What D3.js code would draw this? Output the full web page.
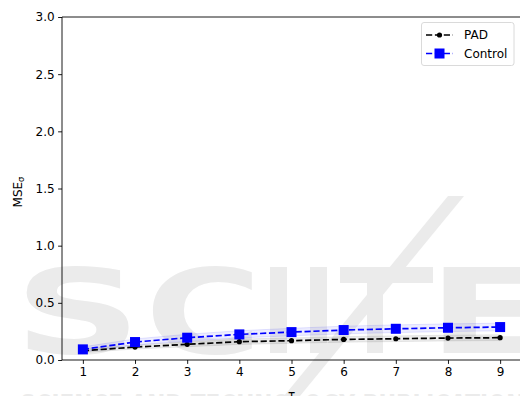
<!DOCTYPE html>
<html>
<head>
<meta charset="utf-8">
<script src="https://cdn.jsdelivr.net/npm/d3@7"></script>
<style>
  html, body { margin: 0; padding: 0; background: #fff; }
  svg { display: block; }
  text { font-family: "DejaVu Sans", sans-serif; }
</style>
</head>
<body>
<svg id="chart" width="520" height="396"></svg>
<script>
// Horizon values and mean errors per method
const tau = [1, 2, 3, 4, 5, 6, 7, 8, 9];
const padMean = [0.081, 0.113, 0.137, 0.160, 0.169, 0.180, 0.186, 0.192, 0.195];
const padLow = [0.066, 0.096, 0.116, 0.136, 0.146, 0.156, 0.161, 0.167, 0.170];
const padHigh = [0.098, 0.132, 0.158, 0.183, 0.193, 0.204, 0.211, 0.217, 0.221];
const ctrlMean = [0.093, 0.157, 0.195, 0.224, 0.244, 0.262, 0.273, 0.282, 0.288];
const ctrlLow = [0.072, 0.131, 0.166, 0.193, 0.212, 0.229, 0.240, 0.249, 0.255];
const ctrlHigh = [0.115, 0.184, 0.225, 0.256, 0.277, 0.296, 0.307, 0.316, 0.322];
const yTicks = [0.0, 0.5, 1.0, 1.5, 2.0, 2.5, 3.0];
const seriesNames = ["PAD", "Control"];

const svg = d3.select("#chart");
const plotL = 62, plotR = 521, plotT = 17, plotB = 360;
const fs = 12;

// Publisher watermark, drawn beneath the plot
const wm = svg.append("g").attr("fill", "#ebebeb");
wm.append("text").attr("transform", "translate(14,353) scale(1.5,1)")
  .attr("font-size", 118).attr("font-weight", "bold").text("S");
wm.append("text").attr("transform", "translate(145,353) scale(1.35,1)")
  .attr("font-size", 118).attr("font-weight", "bold").text("C");
wm.append("rect").attr("x", 270).attr("y", 267).attr("width", 17).attr("height", 86);
wm.append("rect").attr("x", 310).attr("y", 267).attr("width", 17).attr("height", 86);
wm.append("rect").attr("x", 340).attr("y", 267).attr("width", 93).attr("height", 16);
wm.append("rect").attr("x", 367).attr("y", 283).attr("width", 16).attr("height", 70);
wm.append("polygon").attr("points", "448,196 464,196 300,396 284,396");
wm.append("text").attr("transform", "translate(428,353) scale(1.45,1)")
  .attr("font-size", 118).attr("font-weight", "bold").text("E");
wm.append("text").attr("x", 20).attr("y", 416).attr("font-size", 30)
  .attr("font-weight", "bold").attr("textLength", 520).attr("lengthAdjust", "spacingAndGlyphs")
  .text("SCIENCE AND TECHNOLOGY PUBLICATIONS");

const x = d3.scaleLinear().domain([0.6, 9.4]).range([plotL, plotR]);
const y = d3.scaleLinear().domain([0, 3]).range([plotB, plotT]);

// Confidence bands
const band = (lo, hi) => d3.area()
  .x((d, i) => x(tau[i]))
  .y0((d, i) => y(lo[i]))
  .y1((d, i) => y(hi[i]))(tau);
svg.append("path").attr("d", band(padLow, padHigh))
  .attr("fill", "black").attr("fill-opacity", 0.07)
  .attr("stroke", "black").attr("stroke-opacity", 0.08).attr("stroke-width", 1);
svg.append("path").attr("d", band(ctrlLow, ctrlHigh))
  .attr("fill", "blue").attr("fill-opacity", 0.07)
  .attr("stroke", "blue").attr("stroke-opacity", 0.1).attr("stroke-width", 1);

// Axes
const yAxis = d3.axisLeft(y).tickValues(yTicks).tickFormat(d3.format(".1f"))
  .tickSize(3.9).tickPadding(3.5);
const gy = svg.append("g").attr("transform", `translate(${plotL},0)`).call(yAxis);
const xAxis = d3.axisBottom(x).tickValues(tau).tickFormat(d3.format("d"))
  .tickSize(3.9).tickPadding(3.5);
const gx = svg.append("g").attr("transform", `translate(0,${plotB})`).call(xAxis);
[gx, gy].forEach(g => {
  g.select(".domain").remove();
  g.selectAll(".tick line").attr("stroke", "#000").attr("stroke-width", 0.9);
  g.selectAll(".tick text").attr("fill", "#000").attr("font-size", fs)
    .attr("font-family", "DejaVu Sans, sans-serif");
});

// Lines and markers
const line = vals => d3.line().x((d, i) => x(tau[i])).y((d, i) => y(vals[i]))(tau);
svg.append("path").attr("d", line(padMean)).attr("fill", "none")
  .attr("stroke", "black").attr("stroke-width", 1.7).attr("stroke-dasharray", "6.2,2.7");
svg.append("path").attr("d", line(ctrlMean)).attr("fill", "none")
  .attr("stroke", "blue").attr("stroke-width", 1.7).attr("stroke-dasharray", "6.2,2.7");
svg.append("g").selectAll("circle").data(padMean).join("circle")
  .attr("cx", (d, i) => x(tau[i])).attr("cy", d => y(d)).attr("r", 2.6).attr("fill", "black");
svg.append("g").selectAll("rect").data(ctrlMean).join("rect")
  .attr("x", (d, i) => x(tau[i]) - 5).attr("y", d => y(d) - 5)
  .attr("width", 10).attr("height", 10).attr("fill", "blue");

// Spines
const sp = svg.append("g").attr("stroke", "#000").attr("stroke-width", 0.9).attr("fill", "none");
sp.append("line").attr("x1", plotL).attr("x2", plotL).attr("y1", plotT).attr("y2", plotB);
sp.append("line").attr("x1", plotL).attr("x2", plotR).attr("y1", plotB).attr("y2", plotB);
sp.append("line").attr("x1", plotL).attr("x2", plotR).attr("y1", plotT).attr("y2", plotT);
sp.append("line").attr("x1", plotR).attr("x2", plotR).attr("y1", plotT).attr("y2", plotB);

// Axis labels
svg.append("text").attr("x", (plotL + plotR) / 2).attr("y", 399)
  .attr("text-anchor", "middle").attr("font-size", fs).text("τ");
const yl = svg.append("text").attr("transform", "translate(21.5,192) rotate(-90)")
  .attr("text-anchor", "middle").attr("font-size", fs);
yl.append("tspan").text("MSE");
yl.append("tspan").attr("font-size", fs * 0.7).attr("dy", 2.5).text("σ");

// Legend
const lg = svg.append("g");
lg.append("rect").attr("x", 421.5).attr("y", 22.5).attr("width", 92.5).attr("height", 43)
  .attr("rx", 2.5).attr("fill", "white").attr("fill-opacity", 0.8)
  .attr("stroke", "#d6d6d6").attr("stroke-width", 0.9);
const rows = [
  { name: seriesNames[0], color: "black", y: 35 },
  { name: seriesNames[1], color: "blue", y: 53.5 }
];
rows.forEach((r, k) => {
  lg.append("line").attr("x1", 426).attr("x2", 453).attr("y1", r.y).attr("y2", r.y)
    .attr("stroke", r.color).attr("stroke-width", 1.7).attr("stroke-dasharray", "6.2,2.7");
  if (k === 0) {
    lg.append("circle").attr("cx", 439.5).attr("cy", r.y).attr("r", 2.6).attr("fill", r.color);
  } else {
    lg.append("rect").attr("x", 434.5).attr("y", r.y - 5).attr("width", 10).attr("height", 10)
      .attr("fill", r.color);
  }
  lg.append("text").attr("x", 464).attr("y", r.y + 4.3).attr("font-size", fs).text(r.name);
});
</script>
</body>
</html>
